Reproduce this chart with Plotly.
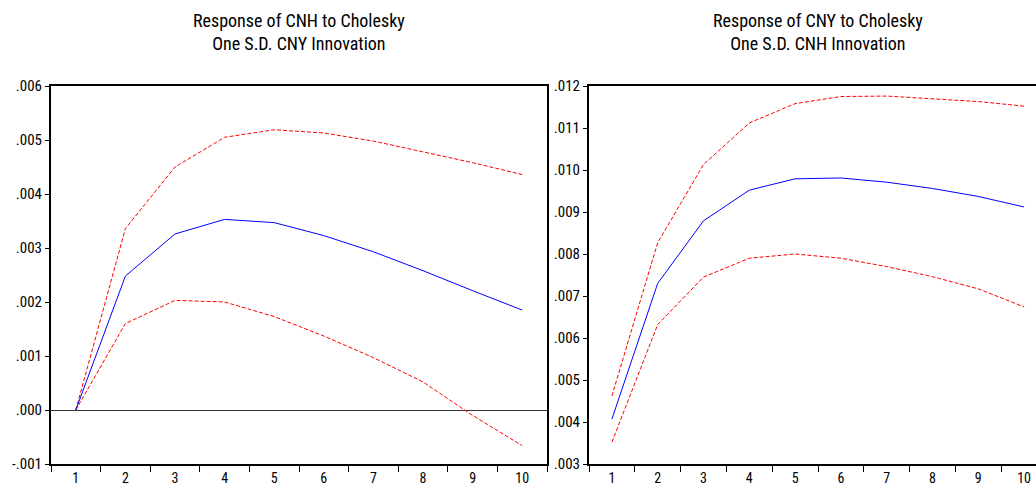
import plotly.graph_objects as go

periods = ["1", "2", "3", "4", "5", "6", "7", "8", "9", "10"]

# Left: Response of CNH to Cholesky One S.D. CNY Innovation
cnh_resp = [0.0, 0.00248, 0.00326, 0.00353, 0.00347, 0.00323, 0.00293, 0.00258, 0.00221, 0.00185]
cnh_upper = [0.0, 0.00336, 0.00450, 0.00505, 0.00519, 0.00513, 0.00498, 0.00478, 0.00458, 0.00436]
cnh_lower = [0.0, 0.00160, 0.00203, 0.00200, 0.00173, 0.00137, 0.00097, 0.00052, -0.00010, -0.00066]

# Right: Response of CNY to Cholesky One S.D. CNH Innovation
cny_resp = [0.00407, 0.00730, 0.00879, 0.00952, 0.00979, 0.00981, 0.00971, 0.00956, 0.00937, 0.00912]
cny_upper = [0.00462, 0.00827, 0.01013, 0.01112, 0.01158, 0.01175, 0.01176, 0.01170, 0.01163, 0.01152]
cny_lower = [0.00352, 0.00632, 0.00745, 0.00790, 0.00800, 0.00790, 0.00770, 0.00746, 0.00717, 0.00674]

left_ticks = [-0.001, 0.000, 0.001, 0.002, 0.003, 0.004, 0.005, 0.006]
right_ticks = [0.003, 0.004, 0.005, 0.006, 0.007, 0.008, 0.009, 0.010, 0.011, 0.012]

titles = ["Response of CNH to Cholesky<br>One S.D. CNY Innovation",
          "Response of CNY to Cholesky<br>One S.D. CNH Innovation"]


def fmt(v):
    s = f"{v:.3f}"
    if s.startswith("-0"):
        return "-" + s[2:]
    if s.startswith("0"):
        return s[1:]
    return s


FONT = "Liberation Sans Narrow, Arial Narrow, Roboto Condensed, Liberation Sans, sans-serif"
W, H = 1036, 489

fig = go.Figure()

for i, (resp, up, lo) in enumerate([(cnh_resp, cnh_upper, cnh_lower), (cny_resp, cny_upper, cny_lower)]):
    xa = "x" if i == 0 else "x2"
    ya = "y" if i == 0 else "y2"
    fig.add_trace(go.Scatter(x=periods, y=up, mode="lines", xaxis=xa, yaxis=ya,
                             line=dict(color="#ff0000", width=1, dash="4px,2px"), showlegend=False))
    fig.add_trace(go.Scatter(x=periods, y=lo, mode="lines", xaxis=xa, yaxis=ya,
                             line=dict(color="#ff0000", width=1, dash="4px,2px"), showlegend=False))
    fig.add_trace(go.Scatter(x=periods, y=resp, mode="lines", xaxis=xa, yaxis=ya,
                             line=dict(color="#0000ff", width=1), showlegend=False))

top = 1 - 86 / H
bot = 1 - 464 / H

common_x = dict(type="category", tickson="boundaries", ticks="outside", ticklen=6,
                tickcolor="black", showline=True, linecolor="black", linewidth=2,
                showgrid=False, zeroline=False, mirror=True, automargin=False,
                tickfont=dict(family=FONT, size=14, color="black"))
common_y = dict(ticks="outside", ticklen=4, tickcolor="black", showline=True,
                linecolor="black", linewidth=2, showgrid=False, automargin=False,
                tickfont=dict(family=FONT, size=15, color="black"))

fig.update_layout(
    width=W, height=H,
    margin=dict(l=0, r=0, t=0, b=0, autoexpand=False),
    paper_bgcolor="white", plot_bgcolor="white",
    xaxis=dict(domain=[51 / W, 547 / W], range=[-0.5, 9.5], **common_x),
    yaxis=dict(domain=[bot, top], range=[-0.001, 0.006], tickvals=left_ticks,
               ticktext=[fmt(v) for v in left_ticks], mirror=True,
               zeroline=True, zerolinecolor="#333333", zerolinewidth=1, **common_y),
    xaxis2=dict(domain=[589 / W, 1.0], range=[-0.5, 9.26], anchor="y2", **common_x),
    yaxis2=dict(domain=[bot, top], range=[0.003, 0.012], tickvals=right_ticks,
                ticktext=[fmt(v) for v in right_ticks], anchor="x2", mirror=False,
                zeroline=False, **common_y),
)

fig.add_annotation(text=titles[0], x=299 / W, y=1 - 32 / H, xref="paper", yref="paper",
                   xanchor="center", yanchor="middle", showarrow=False,
                   font=dict(family=FONT, size=18, color="black"))
fig.add_annotation(text=titles[1], x=818 / W, y=1 - 32 / H, xref="paper", yref="paper",
                   xanchor="center", yanchor="middle", showarrow=False,
                   font=dict(family=FONT, size=18, color="black"))

fig.write_html("out.html", config={"displayModeBar": False},
               post_script="document.body.style.margin='0';document.body.style.overflow='hidden';")
